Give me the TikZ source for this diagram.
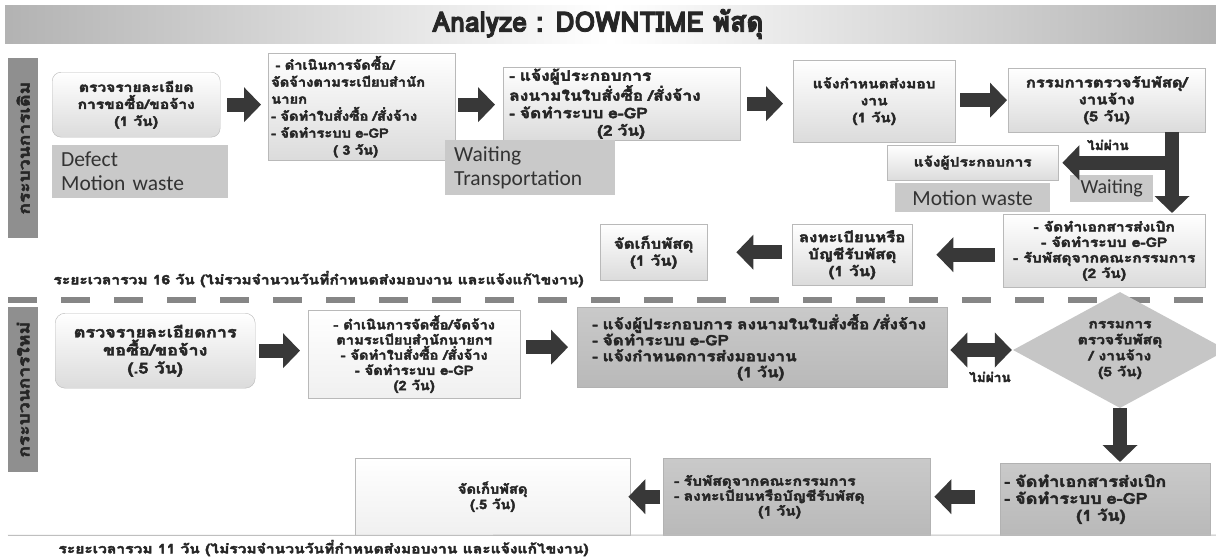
\documentclass[tikz,border=0pt]{standalone}
\usepackage{fontspec}
\setmainfont{Loma}[Script=Thai, FakeStretch=1.2, BoldFont={Loma Bold}, BoldFeatures={FakeBold=3}]
\newfontfamily\thb{Loma Bold}[Script=Thai, FakeStretch=1.13, FakeBold=3]
\newfontfamily\thc{Loma Bold}[Script=Thai, FakeStretch=1.05, FakeBold=3]
\newfontfamily\titlef{Loma Bold}[Script=Thai, FakeStretch=0.95, FakeBold=3]
\newfontfamily\latinf{Carlito}
\usetikzlibrary{shapes.geometric,arrows.meta}
\begin{document}
\begin{tikzpicture}[x=1pt,y=-1pt,
  box/.style={draw=gray!55, top color=white, bottom color=gray!28, font=\bfseries\fontsize{13}{17}\selectfont, align=center, inner sep=1pt, anchor=north west, text=black!85},
  whitebox/.style={box, top color=white, bottom color=gray!12},
  darkbox/.style={draw=gray!60, top color=gray!42, bottom color=gray!55, inner sep=1pt, anchor=north west, text=black!85},
  waste/.style={fill=gray!42, font=\latinf\fontsize{21.5}{24}\selectfont, align=left, anchor=north west, inner xsep=9pt, inner ysep=2pt, text=black!80},
  fat/.style={draw=black!78, line width=14pt, -{Triangle[width=34pt,length=17pt]}},
  strip/.style={fill=gray!88, draw=none, anchor=north west, inner sep=0pt},
  striptext/.style={font=\bfseries\fontsize{16}{18}\selectfont, text=black!85, rotate=90},
  note/.style={font=\bfseries\fontsize{13}{15}\selectfont, text=black!85, anchor=west},
  small/.style={font=\thc\fontsize{13}{15}\selectfont, text=black!85}
]
\useasboundingbox (0,0) rectangle (1216,558);
\fill[white] (0,0) rectangle (1216,558);
% title bar
\fill[left color=gray!60, right color=gray!60, middle color=white] (5,5) rectangle (1216,43);
\node[font=\titlef\fontsize{28}{30}\selectfont, text=black!85] (title) at (598,24) {Analyze : DOWNTIME พัสดุ};

% side strips
\node[strip, minimum width=30pt, minimum height=180pt] (s1) at (8,58) {};
\node[striptext] at (s1.center) {กระบวนการเดิม};
\node[strip, minimum width=30pt, minimum height=165pt] (s2) at (8,307) {};
\node[striptext] at (s2.center) {กระบวนการใหม่};

% ---------- old process ----------
\node[box, rounded corners=9pt, minimum width=168pt, minimum height=65pt, font=\bfseries\fontsize{13}{17}\selectfont] (b1) at (52,72) {ตรวจรายละเอียด\\การขอซื้อ/ขอจ้าง\\(1 วัน)};
\node[box, minimum width=187pt, minimum height=107pt, text width=181pt, align=left, inner xsep=3pt, font=\thb\fontsize{13}{17}\selectfont] (b2) at (268,53) {\ - ดำเนินการจัดซื้อ/\\จัดจ้างตามระเบียบสำนัก\\นายก\\- จัดทำใบสั่งซื้อ /สั่งจ้าง\\- จัดทำระบบ e-GP\\\hspace*{62pt}( 3 วัน)};
\node[waste, minimum width=176pt, minimum height=53pt, text width=158pt] (w1) at (52,145) {Defect\\Motion waste};
\node[box, minimum width=237pt, minimum height=73pt, text width=225pt, align=left, inner xsep=6pt, font=\bfseries\fontsize{14.5}{17.5}\selectfont] (b3) at (503,67) {- แจ้งผู้ประกอบการ\\ลงนามในใบสั่งซื้อ /สั่งจ้าง\\- จัดทำระบบ e-GP\\\hspace*{88pt}(2 วัน)};
\node[waste, minimum width=170pt, minimum height=55pt, text width=152pt, inner xsep=9pt] (w2) at (445,140) {Waiting\\Transportation};
\node[box, minimum width=162pt, minimum height=82pt, font=\bfseries\fontsize{13}{17}\selectfont] (b4) at (793,60) {แจ้งกำหนดส่งมอบ\\งาน\\(1 วัน)};
\node[box, minimum width=197pt, minimum height=64pt, font=\bfseries\fontsize{13.8}{17}\selectfont] (b5) at (1008,68) {กรรมการตรวจรับพัสดุ/\\งานจ้าง\\(5 วัน)};
\node[box, minimum width=171pt, minimum height=35pt, font=\bfseries\fontsize{13}{15}\selectfont] (rej) at (887,145) {แจ้งผู้ประกอบการ};
\node[waste, minimum width=155pt, minimum height=29pt, align=center] (w3) at (895,183) {Motion waste};
\node[waste, minimum width=83pt, minimum height=27pt, align=center, inner xsep=2pt, font=\latinf\fontsize{20}{22}\selectfont] (w4) at (1070,175) {Waiting};
\node[box, minimum width=202pt, minimum height=73pt, font=\bfseries\fontsize{13}{15.5}\selectfont] (b6) at (1003,214) {- จัดทำเอกสารส่งเบิก\\- จัดทำระบบ e-GP\\- รับพัสดุจากคณะกรรมการ\\(2 วัน)};
\node[box, minimum width=120pt, minimum height=61pt, font=\bfseries\fontsize{14}{17}\selectfont] (b7) at (792,224) {ลงทะเบียนหรือ\\บัญชีรับพัสดุ\\(1 วัน)};
\node[box, minimum width=107pt, minimum height=56pt, font=\bfseries\fontsize{14}{17}\selectfont] (b8) at (600,224) {จัดเก็บพัสดุ\\(1 วัน)};
\node[note] (t1) at (50,279) {ระยะเวลารวม 16  วัน (ไม่รวมจำนวนวันที่กำหนดส่งมอบงาน และแจ้งแก้ไขงาน)};
\node[small] (np1) at (1108,145) {ไม่ผ่าน};

\coordinate (vx) at (1172,0);
\draw[fat, shorten <=7pt, shorten >=7pt] (b1.east) -- (b1.east -| b2.west);
\draw[fat, shorten <=3pt, shorten >=8pt] (b2.east |- b1.east) -- (b1.east -| b3.west);
\draw[fat, shorten <=7pt, shorten >=10pt] (b3.east) -- (b3.east -| b4.west);
\draw[fat, shorten <=5pt, shorten >=1pt] (b4.east |- b5.west) -- (b5.west);
\draw[fat, shorten >=1pt] (vx |- b5.south) -- (vx |- b6.north);
\draw[fat, shorten >=4pt] (vx |- rej.east) -- (rej.east);
\draw[fat, shorten <=8pt, shorten >=24pt] (b6.west |- b7.east) -- (b7.east);
\draw[fat, shorten <=10pt, shorten >=29pt] (b7.west |- b8.east) -- (b8.east);

% dashed divider
\draw[gray!95, line width=6pt, dash pattern=on 29pt off 24pt] (8,300) -- (1216,300);

% ---------- new process ----------
\node[box, rounded corners=10pt, minimum width=200pt, minimum height=75pt, font=\bfseries\fontsize{15}{18}\selectfont] (c1) at (55,313) {ตรวจรายละเอียดการ\\ขอซื้อ/ขอจ้าง\\(.5 วัน)};
\node[whitebox, minimum width=212pt, minimum height=88pt, font=\thb\fontsize{13}{15.2}\selectfont] (c2) at (308,310) {- ดำเนินการจัดซื้อ/จัดจ้าง\\ตามระเบียบสำนักนายกฯ\\- จัดทำใบสั่งซื้อ /สั่งจ้าง\\- จัดทำระบบ e-GP\\(2 วัน)};
\node[darkbox, minimum width=370pt, minimum height=80pt, text width=340pt, inner xsep=15pt, align=left, font=\bfseries\fontsize{14.3}{16}\selectfont] (c3) at (577,307) {- แจ้งผู้ประกอบการ ลงนามในใบสั่งซื้อ /สั่งจ้าง\\- จัดทำระบบ e-GP\\- แจ้งกำหนดการส่งมอบงาน\\\hspace*{145pt}(1 วัน)};
\node[diamond, aspect=1.84, minimum width=214pt, minimum height=116pt, inner sep=0pt, fill=gray!45, font=\bfseries\fontsize{13}{16}\selectfont, align=center, text=black!85] (d) at (1120,350) {กรรมการ\\ตรวจรับพัสดุ\\/ งานจ้าง\\(5 วัน)};
\node[small] (np2) at (990,377) {ไม่ผ่าน};
\node[darkbox, minimum width=210pt, minimum height=72pt, text width=202pt, align=left, inner xsep=4pt, font=\bfseries\fontsize{15}{17}\selectfont] (c4) at (1000,463) {- จัดทำเอกสารส่งเบิก\\- จัดทำระบบ e-GP\\\hspace*{72pt}(1 วัน)};
\node[darkbox, minimum width=267pt, minimum height=77pt, text width=245pt, inner xsep=11pt, align=left, font=\bfseries\fontsize{13}{15}\selectfont] (c5) at (663,458) {- รับพัสดุจากคณะกรรมการ\\- ลงทะเบียนหรือบัญชีรับพัสดุ\\\hspace*{84pt}(1 วัน)};
\node[whitebox, minimum width=275pt, minimum height=77pt, font=\thb\fontsize{13}{15.5}\selectfont] (c6) at (355,458) {จัดเก็บพัสดุ\\(.5 วัน)};
\draw[gray!50, line width=1pt] (s2.south west |- c6.south) -- (1216,535);
\node[note, font=\bfseries\fontsize{13}{15}\selectfont] (t2) at (55,548) {ระยะเวลารวม 11 วัน (ไม่รวมจำนวนวันที่กำหนดส่งมอบงาน และแจ้งแก้ไขงาน)};

\draw[fat, shorten <=4pt, shorten >=8pt] (c1.east) -- (c1.east -| c2.west);
\draw[fat, shorten <=6pt, shorten >=9pt] (c2.east |- c3.west) -- (c3.west);
\draw[fat, {Triangle[width=34pt,length=17pt]}-{Triangle[width=34pt,length=17pt]}, shorten <=3pt, shorten >=1pt] (c3.east |- d.west) -- (d.west);
\draw[fat, shorten >=1pt] (d.south) -- (d.south |- c4.north);
\draw[fat, shorten <=25pt, shorten >=4pt] (c4.west |- c5.east) -- (c5.east);
\draw[fat, shorten <=3pt, shorten >=-2pt] (c5.west) -- (c6.east);
\end{tikzpicture}
\end{document}
